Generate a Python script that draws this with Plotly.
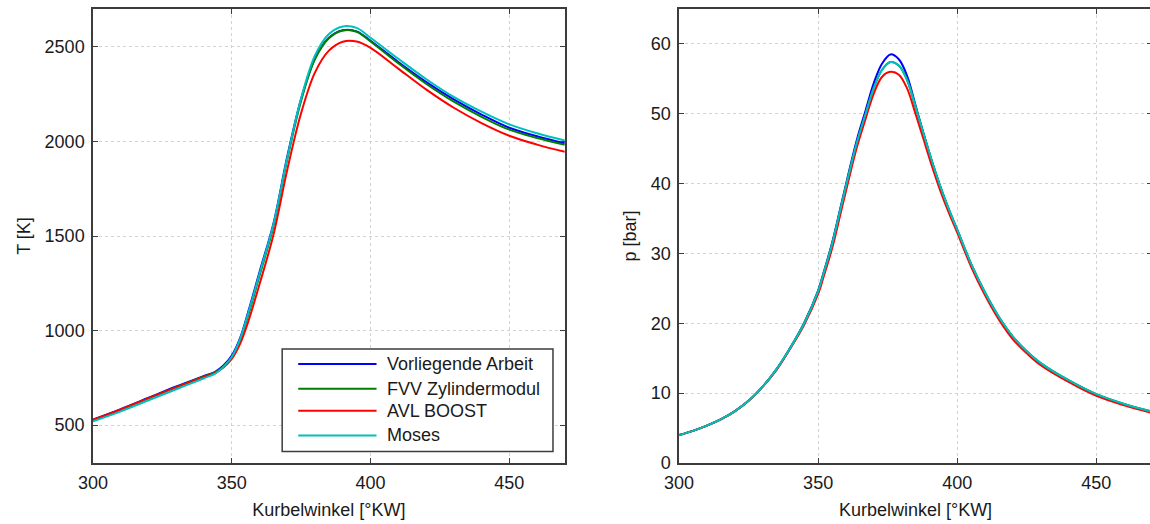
import plotly.graph_objects as go

# Crank angle grid [°KW]
angle_T = [300, 310, 320, 330, 340, 344, 347, 350, 353, 356, 360, 365, 370, 375,
           380, 385, 390, 395, 400, 410, 420, 430, 440, 450, 460, 470]

# Cylinder gas temperature T [K]
T_arbeit = [530, 585, 645, 705, 760, 782, 815, 868, 960, 1103, 1310, 1565, 1920, 2225,
            2440, 2548, 2588, 2582, 2532, 2420, 2315, 2222, 2142, 2072, 2027, 1990]
T_fvv = [527, 582, 642, 701, 758, 779, 810, 860, 950, 1085, 1290, 1550, 1905, 2215,
         2435, 2545, 2586, 2580, 2528, 2413, 2305, 2210, 2130, 2062, 2018, 1982]
T_boost = [528, 583, 643, 700, 755, 777, 805, 850, 930, 1050, 1245, 1505, 1850, 2150,
           2365, 2480, 2527, 2528, 2495, 2385, 2275, 2178, 2097, 2030, 1983, 1945]
T_moses = [520, 573, 632, 690, 748, 772, 808, 860, 955, 1095, 1300, 1560, 1912, 2228,
           2455, 2568, 2608, 2600, 2548, 2437, 2330, 2235, 2157, 2090, 2043, 2005]

angle_p = [300, 305, 310, 315, 320, 325, 330, 335, 340, 345, 350, 352, 355, 358, 361,
           364, 367, 370, 373, 376, 379, 382, 385, 388, 391, 394, 397, 400, 405, 410,
           415, 420, 425, 430, 440, 450, 460, 470]

# Cylinder pressure p [bar]
p_arbeit = [4.0, 4.6, 5.35, 6.25, 7.4, 8.9, 10.9, 13.4, 16.5, 20.1, 24.7, 27.3, 31.5,
            36.5, 41.6, 46.4, 50.4, 54.4, 57.2, 58.5, 57.8, 55.4, 51.2, 47.0, 43.0,
            39.4, 36.2, 33.3, 28.4, 24.3, 20.8, 18.0, 15.9, 14.2, 11.8, 9.8, 8.4, 7.3]
p_fvv = [4.0, 4.6, 5.35, 6.25, 7.4, 8.9, 10.9, 13.4, 16.5, 20.0, 24.6, 27.2, 31.3,
         36.3, 41.3, 46.0, 49.9, 53.7, 56.3, 57.4, 56.9, 54.8, 51.0, 47.0, 43.1,
         39.5, 36.3, 33.4, 28.5, 24.4, 20.9, 18.1, 16.0, 14.3, 11.85, 9.85, 8.45, 7.35]
p_boost = [4.0, 4.6, 5.35, 6.25, 7.4, 8.9, 10.9, 13.3, 16.4, 19.8, 24.2, 26.7, 30.7,
           35.6, 40.6, 45.3, 49.2, 52.9, 55.3, 56.0, 55.6, 53.6, 50.0, 46.2, 42.4,
           38.9, 35.8, 33.0, 28.1, 24.0, 20.5, 17.7, 15.7, 14.0, 11.6, 9.6, 8.25, 7.15]
p_moses = [4.0, 4.6, 5.35, 6.25, 7.4, 8.9, 10.9, 13.4, 16.5, 20.0, 24.6, 27.2, 31.3,
           36.3, 41.3, 46.0, 49.9, 53.7, 56.3, 57.4, 56.9, 54.8, 51.0, 47.0, 43.1,
           39.5, 36.3, 33.4, 28.5, 24.4, 20.9, 18.1, 16.0, 14.3, 11.85, 9.85, 8.45, 7.35]

names = ["Vorliegende Arbeit", "FVV Zylindermodul", "AVL BOOST", "Moses"]
colors = ["#0000ff", "#008000", "#ff0000", "#00bfbf"]
T_series = [T_arbeit, T_fvv, T_boost, T_moses]
p_series = [p_arbeit, p_fvv, p_boost, p_moses]

FONT = "Liberation Sans, Arial, sans-serif"
FRAME = "#3c3c3c"
TEXT = "#1a1a1a"

fig = go.Figure()
for name, col, T in zip(names, colors, T_series):
    fig.add_trace(go.Scatter(x=angle_T, y=T, name=name, mode="lines",
                             line=dict(color=col, width=2, shape="spline"),
                             xaxis="x", yaxis="y", showlegend=False))
for name, col, p in zip(names, colors, p_series):
    fig.add_trace(go.Scatter(x=angle_p, y=p, name=name, mode="lines",
                             line=dict(color=col, width=2, shape="spline"),
                             xaxis="x2", yaxis="y2", showlegend=False))

W, H = 1154, 524
L, R, T_M, B = 92.7, 0, 9.3, 60.7
plot_w = W - L - R


def dom(px0, px1):
    return [(px0 - L) / plot_w, (px1 - L) / plot_w]


axis_common = dict(
    showline=True, linecolor=FRAME, linewidth=1.5, mirror="ticks",
    ticks="inside", ticklen=5, tickwidth=1.3, tickcolor=FRAME,
    showgrid=True, gridcolor="#d2d2d2", griddash="dot", gridwidth=1,
    zeroline=False, tickfont=dict(family=FONT, size=18, color=TEXT),
    title_font=dict(family=FONT, size=18, color=TEXT),
)
x_common = dict(range=[300, 470], dtick=50, ticklabelstandoff=3, **axis_common)
y_common = dict(domain=[0, 1], ticklabelstandoff=3, **axis_common)

fig.update_layout(
    width=W, height=H,
    margin=dict(l=L, r=R, t=T_M, b=B, pad=0),
    paper_bgcolor="white", plot_bgcolor="white",
    xaxis=dict(domain=dom(92.7, 565.5), anchor="y",
               title=dict(text="Kurbelwinkel [°KW]", standoff=11), **x_common),
    yaxis=dict(range=[300, 2700], dtick=500, anchor="x",
               title=dict(text="T [K]", standoff=9), **y_common),
    xaxis2=dict(domain=dom(680, W), anchor="y2",
                title=dict(text="Kurbelwinkel [°KW]", standoff=11), **x_common),
    yaxis2=dict(range=[0, 65], dtick=10, anchor="x2",
                title=dict(text="p [bar]", standoff=9), **y_common),
)

# Legend box drawn inside the temperature panel
lx0, lx1, ly0, ly1 = 0.401, 0.975, 0.0256, 0.251
fig.add_shape(type="rect", xref="x domain", yref="y domain",
              x0=lx0, x1=lx1, y0=ly0, y1=ly1,
              line=dict(color=FRAME, width=1.5), fillcolor="white", layer="above")
row_y = [0.218, 0.1636, 0.1152, 0.0608]
for name, col, yy in zip(names, colors, row_y):
    fig.add_shape(type="line", xref="x domain", yref="y domain",
                  x0=0.435, x1=0.601, y0=yy, y1=yy,
                  line=dict(color=col, width=2), layer="above")
    fig.add_annotation(xref="x domain", yref="y domain", x=0.618, y=yy,
                       text=name, showarrow=False, xanchor="left", yanchor="middle",
                       font=dict(family=FONT, size=18, color=TEXT))

fig.write_html("out.html", post_script=(
    "document.documentElement.style.overflow='hidden';"
    "document.body.style.overflow='hidden';"))
